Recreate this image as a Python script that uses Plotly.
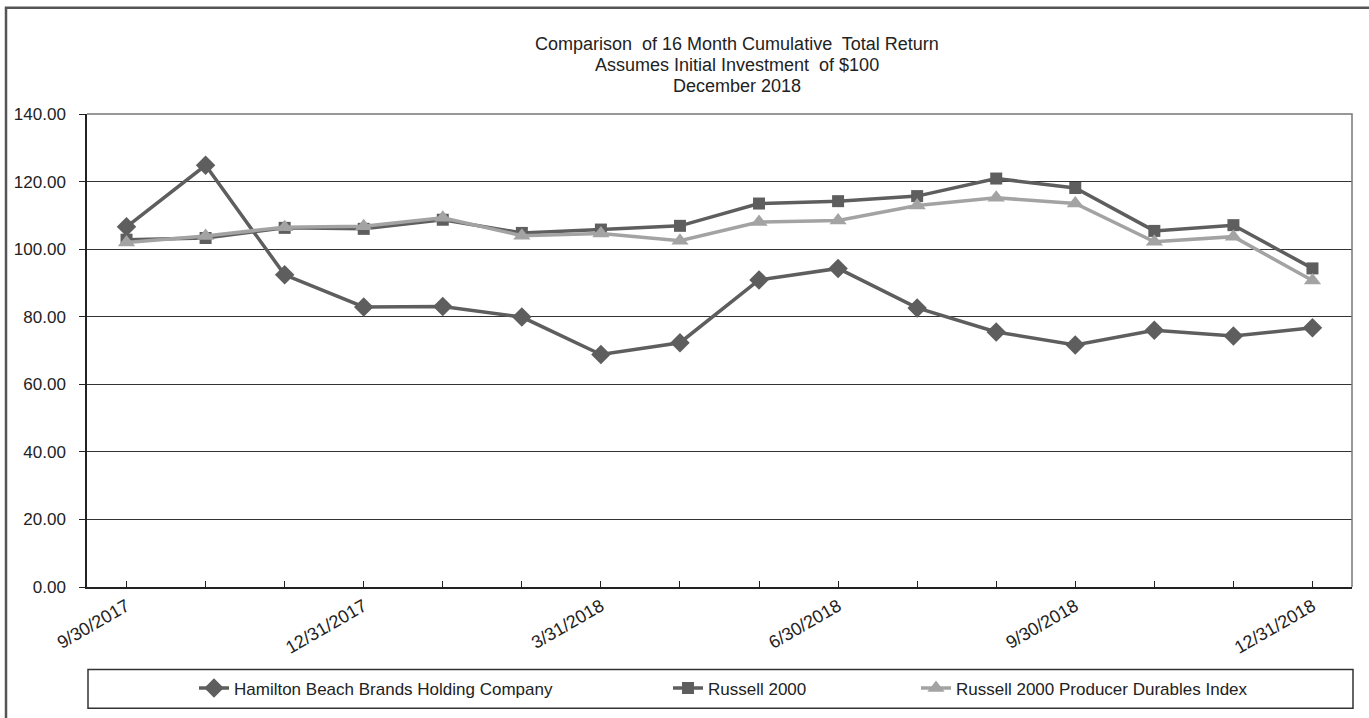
import plotly.graph_objects as go

dates = ["9/30/2017", "10/31/2017", "11/30/2017", "12/31/2017", "1/31/2018", "2/28/2018",
         "3/31/2018", "4/30/2018", "5/31/2018", "6/30/2018", "7/31/2018", "8/31/2018",
         "9/30/2018", "10/31/2018", "11/30/2018", "12/31/2018"]
xlabels = ["9/30/2017", "", "", "12/31/2017", "", "", "3/31/2018", "", "", "6/30/2018",
           "", "", "9/30/2018", "", "", "12/31/2018"]
hamilton = [106.6, 124.8, 92.4, 82.9, 83.0, 79.9, 68.8, 72.3, 90.9, 94.3, 82.6, 75.5,
            71.6, 76.0, 74.3, 76.7]
russell = [102.8, 103.3, 106.3, 106.0, 108.7, 104.8, 105.8, 106.9, 113.5, 114.2, 115.7,
           120.9, 118.1, 105.4, 107.1, 94.3]
producer = [102.0, 103.9, 106.5, 106.8, 109.3, 104.0, 104.6, 102.5, 108.0, 108.5, 112.9,
            115.2, 113.5, 102.2, 103.7, 90.7]
yticks = [0, 20, 40, 60, 80, 100, 120, 140]
names = ["Hamilton Beach Brands Holding Company", "Russell 2000",
         "Russell 2000 Producer Durables Index"]
title_lines = ["Comparison  of 16 Month Cumulative  Total Return",
               "Assumes Initial Investment  of $100", "December 2018"]

FONT = "Liberation Sans, Arial, sans-serif"
DARK = "#5e5e5e"
LIGHT = "#a3a3a3"

W, H = 1369, 718
L, R, T, B = 87, 17, 114, 128
PW, PH = W - L - R, H - T - B


def px_x(p):
    return (p - L) / PW


def px_y(p):
    return (H - B - p) / PH


fig = go.Figure()
fig.add_trace(go.Scatter(x=dates, y=hamilton, name=names[0], mode="lines+markers",
                         line=dict(color=DARK, width=3.5),
                         marker=dict(symbol="diamond", size=15, color=DARK),
                         legend="legend"))
fig.add_trace(go.Scatter(x=dates, y=russell, name=names[1], mode="lines+markers",
                         line=dict(color=DARK, width=3.5),
                         marker=dict(symbol="square", size=12, color=DARK),
                         legend="legend2"))
fig.add_trace(go.Scatter(x=dates, y=producer, name=names[2], mode="lines+markers",
                         line=dict(color=LIGHT, width=3.5),
                         marker=dict(symbol="triangle-up", size=15, color=LIGHT),
                         legend="legend3"))

legend_common = dict(orientation="h", yanchor="middle", xanchor="left",
                     bgcolor="rgba(0,0,0,0)", font=dict(family=FONT, size=17, color="#222"),
                     y=px_y(692))
fig.update_layout(
    width=W, height=H,
    margin=dict(l=L, r=R, t=T, b=B),
    paper_bgcolor="white", plot_bgcolor="white",
    font=dict(family=FONT, size=17, color="#222"),
    showlegend=True,
    legend=dict(legend_common, x=px_x(194)),
    legend2=dict(legend_common, x=px_x(668)),
    legend3=dict(legend_common, x=px_x(916)),
    xaxis=dict(type="category", categoryorder="array", categoryarray=dates,
               range=[-0.5, len(dates) - 0.5],
               tickmode="array", tickvals=dates, ticktext=xlabels, tickangle=-30,
               ticks="inside", ticklen=6, tickcolor="#222", tickwidth=1,
               showline=True, linecolor="#222", linewidth=1.5,
               showgrid=False, zeroline=False,
               tickfont=dict(family=FONT, size=18, color="#222")),
    yaxis=dict(range=[0, 140], tickmode="array", tickvals=yticks, tickformat=".2f",
               ticks="outside", ticklen=6, tickcolor="#222", tickwidth=1,
               ticklabelstandoff=10,
               showline=True, linecolor="#222", linewidth=1.5,
               showgrid=True, gridcolor="#333", gridwidth=1, zeroline=False,
               tickfont=dict(family=FONT, size=17, color="#222")),
)

for i, (txt, yp) in enumerate(zip(title_lines, [44, 65, 86])):
    fig.add_annotation(text=txt, xref="paper", yref="paper", x=px_x(737), y=px_y(yp),
                       xanchor="center", yanchor="middle", showarrow=False,
                       font=dict(family=FONT, size=18, color="#222"))

# plot area top/right border
fig.add_shape(type="path", xref="paper", yref="paper",
              path="M 0,1 L 1,1 L 1,0", line=dict(color="#777", width=1.5))
# legend box
fig.add_shape(type="rect", xref="paper", yref="paper",
              x0=px_x(88), x1=px_x(1353), y0=px_y(673), y1=px_y(712),
              line=dict(color="#333", width=1.5))
# outer frame (top and left)
fig.add_shape(type="path", xref="paper", yref="paper",
              path=f"M {px_x(6)},{px_y(730)} L {px_x(6)},{px_y(7)} L {px_x(1380)},{px_y(7)}",
              line=dict(color="#555", width=2.5))

fig.write_html("out.html")
